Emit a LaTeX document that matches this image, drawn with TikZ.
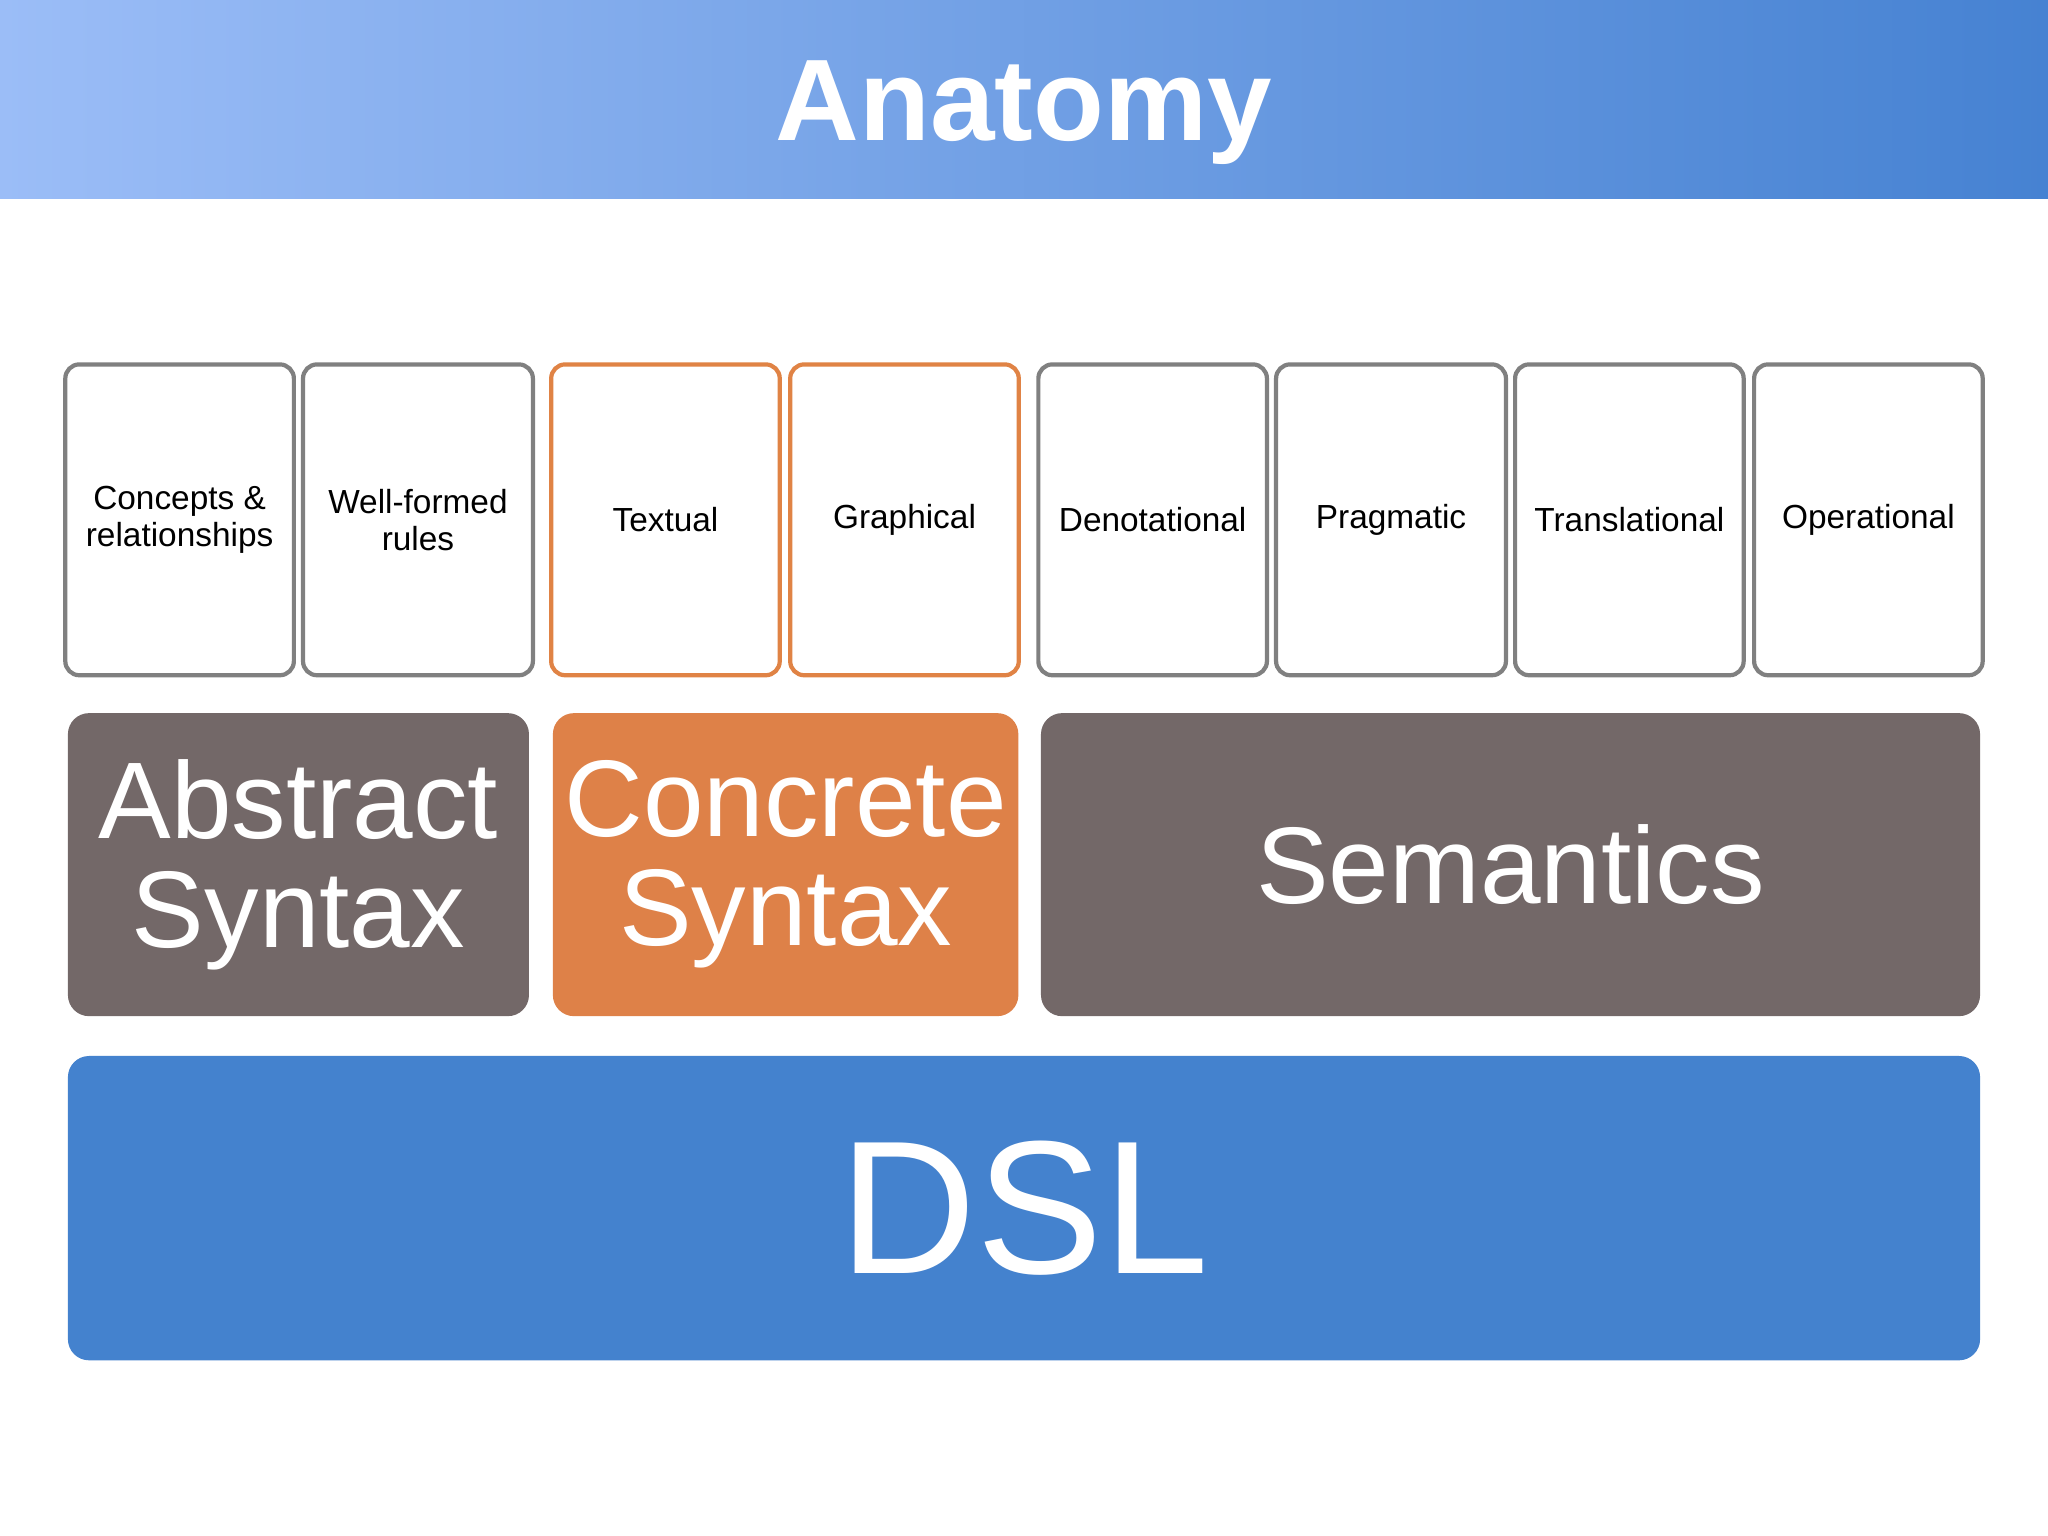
\documentclass[tikz,border=0pt]{standalone}
\usepackage{fontspec}
\setmainfont{Liberation Sans}
\begin{document}
\begin{tikzpicture}[x=0.01306cm,y=-0.01306cm,
 small/.style={draw=gray!85!black,line width=1.2pt,rounded corners=4pt,fill=white,align=center,font=\fontsize{9.5}{10.5}\selectfont},
 orange small/.style={small,draw=orange!70!brown!60!red!60!orange},
 big/.style={rounded corners=6pt,text=white,align=center,font=\fontsize{31}{31}\selectfont}]
\definecolor{hl}{HTML}{9BBDF7}\definecolor{hr}{HTML}{4682D2}
\definecolor{gb}{HTML}{736868}\definecolor{ob}{HTML}{DE8148}\definecolor{db}{HTML}{4482CE}
\definecolor{ol}{HTML}{E08345}
\useasboundingbox (0,0) rectangle (1568,1176);
\fill[white] (0,0) rectangle (1568,1176);
\shade[left color=hl,right color=hr] (0,0) rectangle (1568,152);
\node[text=white,font=\fontsize{33}{33}\selectfont\bfseries] (title) at (784,86) {Anatomy};
\foreach \n/\a/\b/\t/\c in {c1/50/225/{Concepts \&\\relationships}/gray, c2/232/408/{Well-formed\\rules}/gray, c3/422/597/Textual/ol, c4/605/780/Graphical/ol, c5/795/970/Denotational/gray, c6/977/1153/Pragmatic/gray, c7/1160/1335/Translational/gray, c8/1343/1518/Operational/gray}{
 \node[small,draw=\c,minimum width={(\b-\a)*0.01306cm},minimum height={238*0.01306cm}] (\n) at ({(\a+\b)/2},398) {\t};
}
\node[big,fill=gb,minimum width={353*0.01306cm},minimum height={232*0.01306cm}] (abs) at (228.5,662) {Abstract\\Syntax};
\node[big,fill=ob,minimum width={353*0.01306cm},minimum height={232*0.01306cm}] (con) at (601.5,662) {Concrete\\Syntax};
\node[big,fill=gb,minimum width={719*0.01306cm},minimum height={232*0.01306cm}] (sem) at (1156.5,662) {Semantics};
\node[big,fill=db,font=\fontsize{54}{54}\selectfont,minimum width={1464*0.01306cm},minimum height={233*0.01306cm}] (dsl) at (784,925) {DSL};
\end{tikzpicture}
\end{document}
